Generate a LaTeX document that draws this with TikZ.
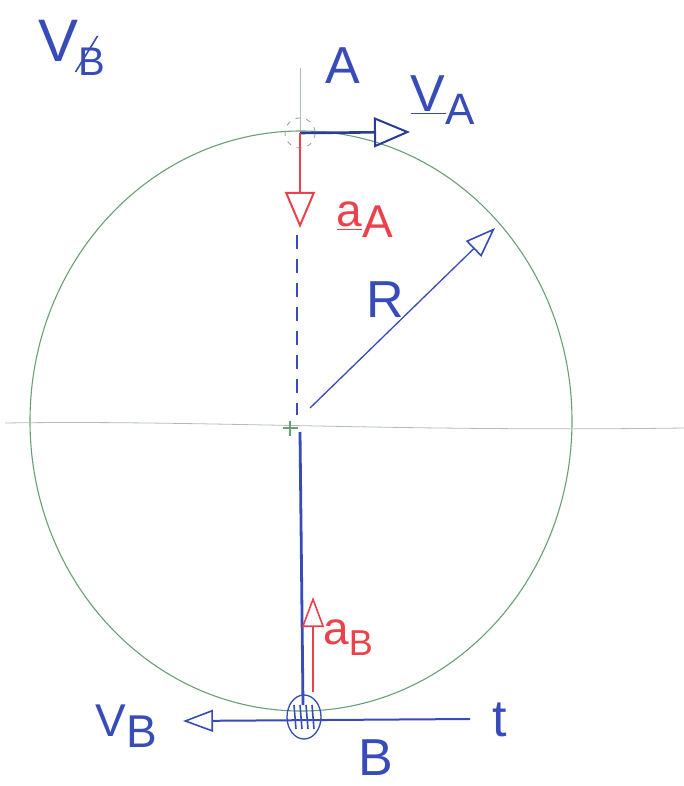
\documentclass[tikz,border=0pt]{standalone}
\usepackage{fontspec}
\setmainfont{Liberation Sans}
\usetikzlibrary{arrows.meta,calc}
\definecolor{pen}{RGB}{55,75,185}
\definecolor{penred}{RGB}{235,65,75}
\definecolor{pengreen}{RGB}{105,160,115}
\definecolor{pencil}{RGB}{180,190,180}
\tikzset{
  lbl/.style={text=pen, font=\fontsize{52}{52}\selectfont, inner sep=0pt},
  lblred/.style={text=penred, font=\fontsize{46}{46}\selectfont, inner sep=0pt},
  vec/.style={-{Triangle[open,length=36pt,width=30pt,line width=2pt]}, line width=2.6pt},
  thinvec/.style={-{Triangle[open,length=30pt,width=22pt,line width=1.6pt]}, line width=1.3pt},
}
\newcommand{\sbx}[1]{\raisebox{-0.45ex}{#1}}
\begin{document}
\begin{tikzpicture}[x=1pt,y=-1pt]
\useasboundingbox (0,0) rectangle (684,786);
\fill[white] (0,0) rectangle (684,786);
% named points
\coordinate (O) at (300,425);
\coordinate (Atop) at (300,68);
\coordinate (A) at (300,133);
\coordinate (vAend) at (410,132);
\coordinate (aAend) at (300,228);
\coordinate (dashTop) at (297,235);
\coordinate (dashBot) at (297,415);
\coordinate (solTop) at (300,432);
\coordinate (solBot) at (303,705);
\coordinate (Rstart) at (310,408);
\coordinate (Rend) at (495,228);
\coordinate (aBstart) at (313,692);
\coordinate (aBend) at (313,597);
\coordinate (tRight) at (470,719);
\coordinate (vBend) at (183,721);
\coordinate (hL) at (5,423);
\coordinate (hR) at (684,428);
% circle (green) and axes
\draw[pengreen, line width=1.1pt] (301,421) ellipse [x radius=271, y radius=290];
\draw[pencil, line width=0.8pt] (hL) .. controls (200,420) and (400,432) .. (hR);
\draw[pencil, line width=0.7pt] (Atop) -- (A);
\draw[pengreen, line width=1.2pt] (283,428) -- (298,428) (290,421) -- (290,436);
% dashed circle at A
\draw[pencil!70!pen, line width=0.8pt, dash pattern=on 5pt off 6pt] (A) circle [radius=15];
% vertical lines
\draw[pen, line width=1.4pt, dash pattern=on 14pt off 10pt] (dashTop) -- (dashBot);
\draw[pen, line width=2.8pt] (solTop) -- (solBot);
% vectors
\draw[pen!80!black, vec] (A) -- (vAend);
\draw[penred, vec] (A) -- (aAend);
\draw[pen, thinvec] (Rstart) -- (Rend);
\draw[penred, thinvec, line width=1.8pt] (aBstart) -- (aBend);
\draw[pen, thinvec, line width=2pt] (tRight) -- (vBend);
% hatched blob at B
\coordinate (B) at (304,717);
\draw[pen, line width=1.3pt] (B) ellipse [x radius=17, y radius=22];
\foreach \dx in {-10,-4,2,8} {
  \draw[pen, line width=1.6pt] ($(B)+(\dx,-12)$) -- ($(B)+(\dx+2,12)$);
}
% labels
\node[lbl, font=\fontsize{60}{60}\selectfont] (lV) at (72,48) {V\sbx{\fontsize{40}{40}\selectfont B}};
\draw[pen, line width=1.6pt] ($(lV.south east)+(-30,-4)$) -- ($(lV.south east)+(-8,-40)$);
\node[lbl] (lA) at (343,66) {A};
\node[lbl] (lvA) at (443,100) {\underline{V}\sbx{\fontsize{44}{44}\selectfont A}};
\node[lblred] (laA) at (365,220) {\underline{a}\sbx{A}};
\node[lbl] (lR) at (385,300) {R};
\node[lblred] (laB) at (348,638) {a\sbx{\fontsize{36}{36}\selectfont B}};
\node[lbl, font=\fontsize{46}{46}\selectfont] (lvB) at (126,726) {V\sbx{B}};
\node[lbl] (lB) at (376,758) {B};
\node[lbl] (lt) at (500,720) {t};
\end{tikzpicture}
\end{document}
